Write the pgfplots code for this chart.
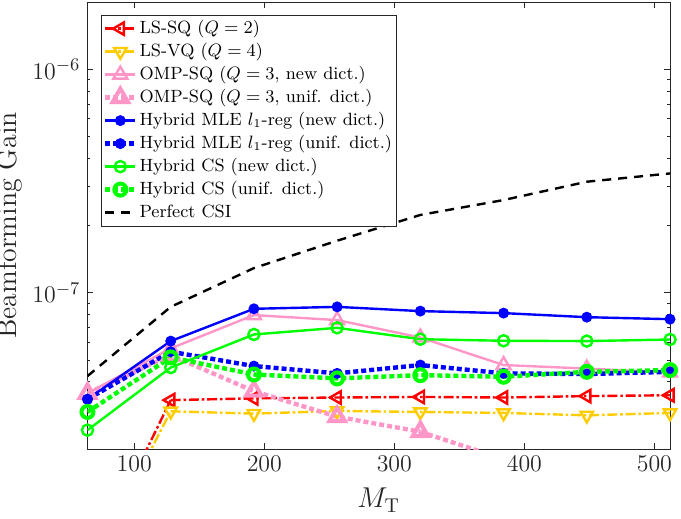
\documentclass[border=0pt]{standalone}
\usepackage{pgfplots}
\pgfplotsset{compat=1.18}
\definecolor{myred}{RGB}{255,0,0}
\definecolor{myyellow}{RGB}{255,204,0}
\definecolor{mypink}{RGB}{255,150,200}
\definecolor{myblue}{RGB}{0,0,255}
\definecolor{mygreen}{RGB}{0,255,0}
\definecolor{axgray}{RGB}{38,38,38}
\begin{document}
\begin{tikzpicture}
\begin{axis}[
 scale only axis, width=291.25bp, height=223.5bp,
 at={(0,0)}, anchor=south west,
 xmin=64, xmax=512, ymode=log, ymin=2e-8, ymax=2e-6,
 xtick={100,200,300,400,500},
 ytick={1e-7,1e-6},
 yticklabels={$10^{-7}$,$10^{-6}$},
 minor ytick={3e-8,4e-8,5e-8,6e-8,7e-8,8e-8,9e-8,2e-7,3e-7,4e-7,5e-7,6e-7,7e-7,8e-7,9e-7},
 tick align=inside,
 axis line style={axgray, line width=0.4bp},
 every tick/.style={axgray, line width=0.4bp},
 major tick length=2.8bp, minor tick length=1.5bp,
 ticklabel style={font=\fontsize{12.5}{15}\selectfont, text=axgray},
 xlabel={$M_{\mathrm{T}}$}, ylabel={Beamforming Gain},
 label style={font=\fontsize{14}{17}\selectfont, text=axgray},
 ylabel style={inner sep=0.5bp},
 ylabel shift=1.2bp, xlabel shift=1.5bp,
 legend cell align=left,
 legend style={at={(0.0227,0.9716)}, anchor=north west,
   font=\fontsize{8.9}{10.7}\selectfont, draw=axgray, line width=0.4bp,
   inner xsep=1bp, inner ysep=1bp, row sep=0pt,
   nodes={inner sep=1bp, text height=7bp, text depth=2.5bp}},
 legend image code/.code={\draw[mark repeat=2,mark phase=2,#1] plot coordinates {(0bp,0bp) (7.5bp,0bp) (15bp,0bp)};},
]
% LS-SQ
\addplot[myred, line width=1.2bp, dash pattern=on 5bp off 1.4bp on 1.3bp off 1.4bp, mark=triangle, mark size=3.6bp, mark options={solid, rotate=90}]
 coordinates {(128,3.31e-8) (192,3.37e-8) (256,3.40e-8) (320,3.42e-8) (384,3.40e-8) (448,3.45e-8) (512,3.48e-8)};
\addlegendentry{LS-SQ ($Q=2$)}
\addplot[forget plot, myred, line width=1.2bp, dash pattern=on 5bp off 1.4bp on 1.3bp off 1.4bp]
 coordinates {(64,5.7e-9) (128,3.31e-8)};
% LS-VQ
\addplot[myyellow, line width=1.2bp, dash pattern=on 5bp off 1.4bp on 1.3bp off 1.4bp, mark=triangle, mark size=3.6bp, mark options={solid, rotate=180}]
 coordinates {(128,2.95e-8) (192,2.88e-8) (256,2.96e-8) (320,2.93e-8) (384,2.90e-8) (448,2.83e-8) (512,2.90e-8)};
\addlegendentry{LS-VQ ($Q=4$)}
\addplot[forget plot, myyellow, line width=1.2bp, dash pattern=on 5bp off 1.4bp on 1.3bp off 1.4bp]
 coordinates {(64,5.6e-9) (128,2.95e-8)};
% OMP-SQ new
\addplot[mypink, line width=1.2bp, mark=triangle, mark size=4bp, mark options={solid}]
 coordinates {(64,3.55e-8) (128,5.64e-8) (192,7.95e-8) (256,7.55e-8) (320,6.31e-8) (384,4.75e-8) (448,4.58e-8) (512,4.40e-8)};
\addlegendentry{OMP-SQ ($Q=3$, new dict.)}
% OMP-SQ unif
\addplot[mypink, line width=2.2bp, dash pattern=on 2.5bp off 1.5bp, mark=triangle, mark size=4.5bp, mark options={solid, line width=2bp}]
 coordinates {(64,3.55e-8) (128,5.26e-8) (192,3.63e-8) (256,2.79e-8) (320,2.39e-8)};
\addlegendentry{OMP-SQ ($Q=3$, unif. dict.)}
\addplot[forget plot, mypink, line width=2.2bp, dash pattern=on 2.5bp off 1.5bp]
 coordinates {(320,2.39e-8) (384,1.80e-8) (448,1.60e-8) (512,1.50e-8)};
% Hybrid MLE new
\addplot[myblue, line width=1.2bp, mark=*, mark size=2.1bp, mark options={solid}]
 coordinates {(64,3.34e-8) (128,6.08e-8) (192,8.48e-8) (256,8.65e-8) (320,8.28e-8) (384,8.11e-8) (448,7.78e-8) (512,7.62e-8)};
\addlegendentry{Hybrid MLE $l_1$-reg (new dict.)}
% Hybrid MLE unif
\addplot[myblue, line width=2.2bp, dash pattern=on 2.5bp off 1.5bp, mark=*, mark size=2.1bp, mark options={solid, line width=1.2bp}]
 coordinates {(64,3.34e-8) (128,5.45e-8) (192,4.70e-8) (256,4.36e-8) (320,4.75e-8) (384,4.36e-8) (448,4.33e-8) (512,4.43e-8)};
\addlegendentry{Hybrid MLE $l_1$-reg (unif. dict.)}
% Hybrid CS new
\addplot[mygreen, line width=1.2bp, mark=o, mark size=2.8bp, mark options={solid}]
 coordinates {(64,2.43e-8) (128,4.63e-8) (192,6.51e-8) (256,6.97e-8) (320,6.20e-8) (384,6.10e-8) (448,6.08e-8) (512,6.18e-8)};
\addlegendentry{Hybrid CS (new dict.)}
% Hybrid CS unif
\addplot[mygreen, line width=2.2bp, dash pattern=on 2.5bp off 1.5bp, mark=o, mark size=3bp, mark options={solid, line width=2bp}]
 coordinates {(64,2.93e-8) (128,5.14e-8) (192,4.31e-8) (256,4.14e-8) (320,4.28e-8) (384,4.21e-8) (448,4.43e-8) (512,4.51e-8)};
\addlegendentry{Hybrid CS (unif. dict.)}
% Perfect CSI
\addplot[black, line width=1.2bp, dash pattern=on 4.5bp off 3.5bp]
 coordinates {(64,4.24e-8) (128,8.65e-8) (192,1.29e-7) (256,1.71e-7) (320,2.23e-7) (384,2.60e-7) (448,3.14e-7) (512,3.42e-7)};
\addlegendentry{Perfect CSI}
\end{axis}
\pgfresetboundingbox
\useasboundingbox (-43.75bp,-35bp) rectangle (296.75bp,224.5bp);
\end{tikzpicture}
\end{document}
